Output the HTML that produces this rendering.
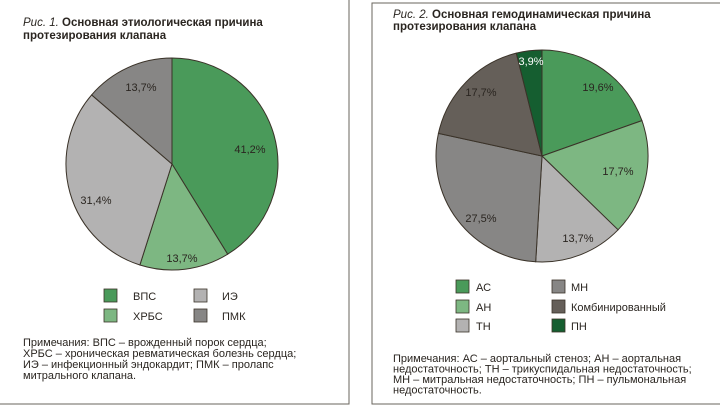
<!DOCTYPE html>
<html><head><meta charset="utf-8"><style>
body{margin:0;background:#fff;}
svg{display:block;font-family:"Liberation Sans",Arial,sans-serif;}
.t{font-size:11.5px;fill:#2a2520;}
.n{font-size:11px;fill:#2a2520;}
.l{font-size:11px;fill:#2a2520;}
.p{font-size:11px;fill:#2a2520;}
</style></head><body>
<svg id="s" width="720" height="407" viewBox="0 0 720 407">
<rect x="0" y="0" width="720" height="407" fill="#fff"/>
<rect x="-2" y="-2" width="351" height="406" fill="none" stroke="#6a645c" stroke-width="1"/>
<rect x="372" y="3" width="350" height="401" fill="none" stroke="#6a645c" stroke-width="1"/>
<text class="t" x="23" y="26"><tspan font-style="italic">Рис. 1.</tspan><tspan font-weight="bold"> Основная этиологическая причина</tspan></text>
<text class="t" x="23" y="39" font-weight="bold">протезирования клапана</text>
<text class="t" x="393" y="18"><tspan font-style="italic">Рис. 2.</tspan><tspan font-weight="bold"> Основная гемодинамическая причина</tspan></text>
<text class="t" x="393" y="30" font-weight="bold">протезирования клапана</text>
<g id="p1"></g><g id="p2"></g>
<g class="p">
<text x="250" y="153" text-anchor="middle">41,2%</text>
<text x="182" y="262" text-anchor="middle">13,7%</text>
<text x="96" y="204" text-anchor="middle">31,4%</text>
<text x="141" y="91" text-anchor="middle">13,7%</text>
<text x="531" y="65" text-anchor="middle" fill="#fff">3,9%</text>
<text x="598" y="91" text-anchor="middle">19,6%</text>
<text x="618" y="175" text-anchor="middle">17,7%</text>
<text x="578" y="242" text-anchor="middle">13,7%</text>
<text x="481" y="222" text-anchor="middle">27,5%</text>
<text x="481" y="96" text-anchor="middle">17,7%</text>
</g>
<g stroke="#3a3228" stroke-width="0.8">
<rect x="104" y="289" width="13" height="13" fill="#4a9a5a"/>
<rect x="104" y="309" width="13" height="13" fill="#7db782"/>
<rect x="194" y="289" width="13" height="13" fill="#b3b2b2"/>
<rect x="194" y="309" width="13" height="13" fill="#878685"/>
<rect x="456" y="280" width="13" height="13" fill="#4a9a5a"/>
<rect x="456" y="300" width="13" height="13" fill="#7db782"/>
<rect x="456" y="319" width="13" height="13" fill="#b3b2b2"/>
<rect x="552" y="280" width="13" height="13" fill="#878685"/>
<rect x="552" y="300" width="13" height="13" fill="#655f59"/>
<rect x="552" y="319" width="13" height="13" fill="#155e30"/>
</g>
<g class="l">
<text x="133" y="300">ВПС</text><text x="133" y="320">ХРБС</text>
<text x="222" y="300">ИЭ</text><text x="222" y="320">ПМК</text>
<text x="476" y="291">АС</text><text x="476" y="311">АН</text><text x="476" y="330">ТН</text>
<text x="571" y="291">МН</text><text x="571" y="311">Комбинированный</text><text x="571" y="330">ПН</text>
</g>
<g class="n">
<text x="23" y="346">Примечания: ВПС – врожденный порок сердца;</text>
<text x="23" y="357">ХРБС – хроническая ревматическая болезнь сердца;</text>
<text x="23" y="368">ИЭ – инфекционный эндокардит; ПМК – пролапс</text>
<text x="23" y="379">митрального клапана.</text>
<text x="393" y="362">Примечания: АС – аортальный стеноз; АН – аортальная</text>
<text x="393" y="372.5">недостаточность; ТН – трикуспидальная недостаточность;</text>
<text x="393" y="383">МН – митральная недостаточность; ПН – пульмональная</text>
<text x="393" y="393.5">недостаточность.</text>
</g>
</svg>
<script>
function pie(id,cx,cy,r,vals,cols){
 var g=document.getElementById(id),a=0,tot=vals.reduce(function(x,y){return x+y},0),h='';
 for(var i=0;i<vals.length;i++){
  var a2=a+vals[i]/tot*2*Math.PI;
  var x1=cx+r*Math.sin(a),y1=cy-r*Math.cos(a),x2=cx+r*Math.sin(a2),y2=cy-r*Math.cos(a2);
  h+='<path d="M'+cx+','+cy+'L'+x1+','+y1+'A'+r+','+r+' 0 '+((a2-a)>Math.PI?1:0)+' 1 '+x2+','+y2+'Z" fill="'+cols[i]+'" stroke="#3a3228" stroke-width="1"/>';
  a=a2;
 }
 g.innerHTML=h;
}
pie('p1',172,164,106,[41.2,13.7,31.4,13.7],['#4a9a5a','#7db782','#b3b2b2','#878685']);
pie('p2',542,156,106,[19.6,17.7,13.7,27.5,17.7,3.9],['#4a9a5a','#7db782','#b3b2b2','#878685','#655f59','#155e30']);
</script>
</body></html>
